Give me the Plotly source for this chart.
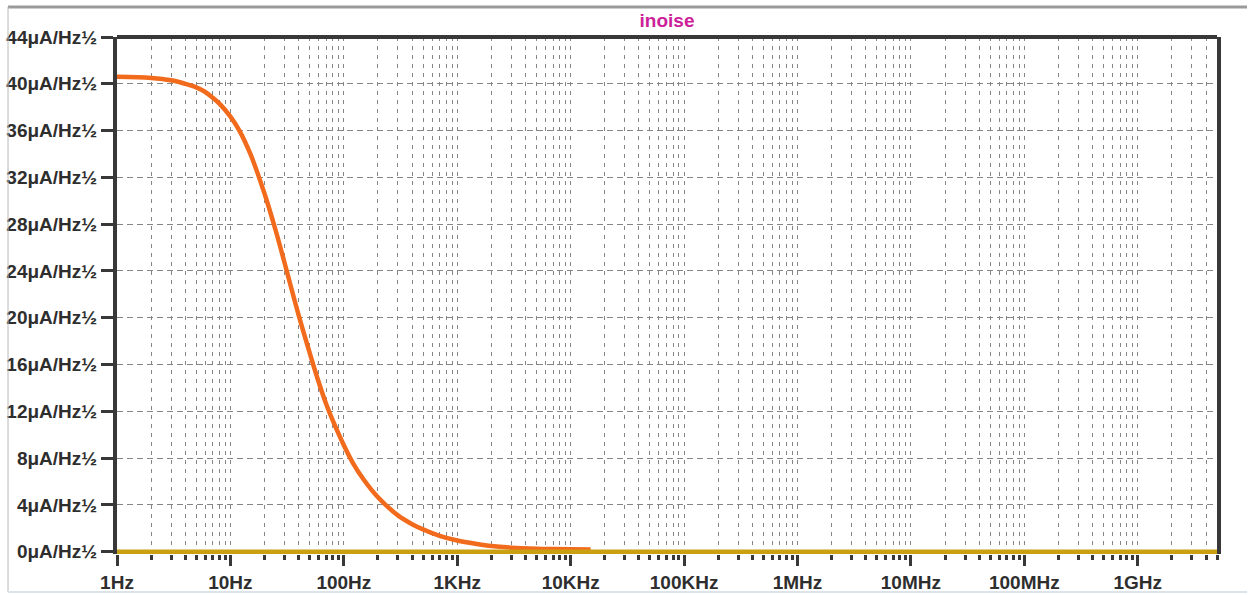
import plotly.graph_objects as go
import numpy as np

# ---- data ----
freq_hz = [1, 2, 3, 4, 5, 6, 7, 8, 10, 12, 15, 20, 25, 30, 40, 50, 60, 70, 80,
           100, 120, 150, 200, 300, 400, 500, 700, 1000, 1500, 2000, 3000,
           5000, 7000, 10000, 15000]
inoise_uA = [40.6, 40.5, 40.3, 40.0, 39.7, 39.3, 38.8, 38.3, 37.2, 36.0, 34.0,
             30.6, 27.5, 24.7, 20.2, 17.0, 14.5, 12.6, 11.2, 9.1, 7.6, 6.15,
             4.65, 3.1, 2.35, 1.9, 1.35, 0.95, 0.65, 0.48, 0.34, 0.25, 0.22,
             0.2, 0.18]
zero_freq = [1, 5e9]
zero_vals = [0, 0]

x_tick_vals = [1, 10, 100, 1e3, 1e4, 1e5, 1e6, 1e7, 1e8, 1e9]
x_tick_text = ["1Hz", "10Hz", "100Hz", "1KHz", "10KHz", "100KHz", "1MHz",
               "10MHz", "100MHz", "1GHz"]
y_tick_vals = [0, 4, 8, 12, 16, 20, 24, 28, 32, 36, 40, 44]
y_tick_text = [f"{v}μA/Hz½" for v in y_tick_vals]

minor_vals = [d * m for d in [1, 10, 100, 1e3, 1e4, 1e5, 1e6, 1e7, 1e8, 1e9]
              for m in range(2, 10) if d * m <= 5e9]

FONT = "Liberation Sans, Arial, sans-serif"
DARK = "#383838"
GRID = "#858585"
TXT = "#2e2e2e"

fig = go.Figure()
fig.add_trace(go.Scatter(x=freq_hz, y=inoise_uA, mode="lines",
                         line=dict(color="#F26A1B", width=4.5, shape="spline"),
                         hoverinfo="skip", showlegend=False))
fig.add_trace(go.Scatter(x=zero_freq, y=zero_vals, mode="lines",
                         line=dict(color="#C9A012", width=4.5),
                         hoverinfo="skip", showlegend=False))

fig.update_layout(
    width=1252, height=595,
    margin=dict(l=117, r=35, t=37, b=41, autoexpand=False),
    paper_bgcolor="white", plot_bgcolor="white",
    title=dict(text="inoise", x=0.5, xref="paper", xanchor="center",
               y=1 - 20 / 595, yref="container", yanchor="middle",
               font=dict(family=FONT, size=19, color="#CC2299", weight="bold")),
    font=dict(family=FONT, size=19, color=TXT, weight="bold"),
    showlegend=False,
)

fig.update_xaxes(
    type="log", range=[0, np.log10(5e9)], automargin=False,
    tickmode="array", tickvals=x_tick_vals, ticktext=x_tick_text,
    ticks="outside", ticklen=11, tickwidth=3, tickcolor=DARK,
    showline=False, zeroline=False,
    showgrid=True, gridcolor=GRID, gridwidth=1, griddash="4px,5px",
    tickfont=dict(family=FONT, size=19, color=TXT, weight="bold"),
    minor=dict(tickmode="array", tickvals=minor_vals, ticks="outside",
               ticklen=5, tickwidth=3, tickcolor=DARK,
               showgrid=True, gridcolor=GRID, gridwidth=1, griddash="4px,5px"),
)
fig.update_yaxes(
    range=[-0.2, 44], automargin=False,
    tickmode="array", tickvals=y_tick_vals, ticktext=y_tick_text,
    ticks="outside", ticklen=12, tickwidth=3, tickcolor=DARK,
    showline=True, linewidth=4, linecolor=DARK, mirror=True,
    zeroline=False,
    showgrid=True, gridcolor=GRID, gridwidth=1, griddash="6px,4px",
    tickfont=dict(family=FONT, size=19, color=TXT, weight="bold"),
)

# frame: top border of plot, plus outer window lines
fig.add_shape(type="line", xref="paper", yref="paper", x0=0, x1=1, y0=1, y1=1,
              line=dict(color=DARK, width=4), layer="above")
fig.add_shape(type="line", xref="paper", yref="paper",
              x0=(8 - 117) / 1100, x1=(1247 - 117) / 1100,
              y0=(554 - 7) / 517, y1=(554 - 7) / 517,
              line=dict(color="#9a9a9a", width=3), layer="above")
fig.add_shape(type="line", xref="paper", yref="paper",
              x0=(8 - 117) / 1100, x1=(8 - 117) / 1100,
              y0=(554 - 7) / 517, y1=(554 - 592) / 517,
              line=dict(color="#b8b8b8", width=1), layer="above")
fig.add_shape(type="line", xref="paper", yref="paper",
              x0=(8 - 117) / 1100, x1=(1247 - 117) / 1100,
              y0=(554 - 592) / 517, y1=(554 - 592) / 517,
              line=dict(color="#dde3ea", width=2), layer="above")

fig.write_html("out.html")
